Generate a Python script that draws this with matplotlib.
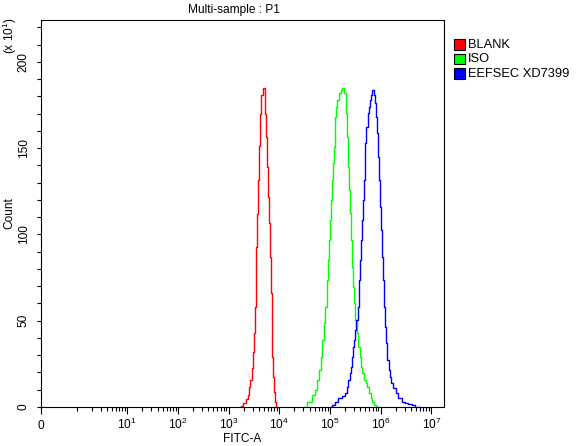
import matplotlib
matplotlib.use('Agg')
import matplotlib.pyplot as plt
from matplotlib.patches import Rectangle
from matplotlib.transforms import ScaledTranslation

plt.rcParams['font.family'] = ['Liberation Sans', 'DejaVu Sans']
plt.rcParams['mathtext.default'] = 'regular'
plt.rcParams['font.size'] = 8.6

# histogram data (FITC-A value, count in units of x10)
blank_fitc = [1750, 1816, 2114, 2280, 2456, 2650, 2774, 2944, 3084, 3228,
              3328, 3484, 3590, 3698, 3872, 4046, 4306, 4572, 4854, 5074,
              5236, 5484, 5662, 6000, 6280, 6576, 6780, 6984, 7194, 7534,
              7764, 8128, 8512, 8892]
blank_count = [0, 0.6, 2.1, 4.4, 7.0, 11.8, 15.7, 22.4, 32, 42.7,
               58, 75.5, 93, 112, 131.6, 151, 170, 181, 184.7, 185,
               181, 170, 156.7, 139, 122, 106.5, 87, 66, 44.6, 29,
               17.6, 8.9, 3.1, 0]

iso_fitc = [30760, 40460, 47000, 54840, 58880, 63680, 68720, 73960, 79980, 83560,
            88720, 92900, 97060, 103500, 108400, 113200, 116400, 121900, 125900, 131800,
            135800, 146200, 157800, 170600, 183600, 198200, 214300, 223800, 237700, 248900,
            260000, 268600, 281200, 294400, 312000, 326600, 346800, 374200, 404600, 423000,
            455000, 492000, 531000, 571600, 617000, 666800, 716200, 774600, 835600, 899600]
iso_count = [0, 3.1, 7.0, 9.9, 15.7, 21.4, 29.2, 38.8, 48.5, 58.1,
             73.6, 85.2, 96.8, 108.4, 120, 131.6, 141.3, 150.9, 160.6, 168.3,
             174, 178, 181.8, 183.5, 185, 181.8, 170.3, 156.7, 139.3, 125.8,
             112.3, 96.8, 81.3, 69.7, 60.1, 50.4, 42.7, 35, 29.2, 23.4,
             19.5, 15.7, 13.7, 11.8, 7.9, 5, 3.1, 1.2, 0.6, 0]

eefsec_fitc = [103500, 116400, 135800, 157800, 183600, 207600, 223800, 237700, 252400, 268600,
               281200, 298600, 312000, 326600, 342000, 362200, 374200, 386400, 404600, 416000,
               434600, 455000, 476400, 492000, 514000, 538400, 571600, 597000, 625200, 654600,
               685600, 716200, 750000, 799600, 847200, 887200, 929000, 970600, 1016000, 1064000,
               1114000, 1164000, 1219000, 1277000, 1334000, 1396000, 1483000, 1578000, 1698000, 1862000,
               2076000, 2410000, 2800000, 3266000, 3794000, 4406000, 5140000, 5970000]
eefsec_count = [0, 1.2, 3.1, 5, 6.4, 7.9, 11.8, 15.7, 19.5, 23.4,
                29.2, 35, 38.8, 44.6, 50.4, 58.1, 65.9, 73.6, 85.2, 96.8,
                108.4, 120, 131.6, 143.2, 152.9, 162.5, 170.3, 174, 178, 180.9,
                183.5, 184, 180.9, 176, 168.3, 158.7, 145.1, 131.6, 116.1, 102.6,
                87.1, 73.6, 58.1, 46.5, 36.9, 27.2, 21.4, 17.6, 13.7, 10.8,
                7.9, 5, 3.1, 2.5, 1.7, 1.2, 0.2, 0]

series_names = ['BLANK', 'ISO', 'EEFSEC XD7399']
series_colors = ['#ff0000', '#00ff00', '#0000ff']

x_major = [0, 1e1, 1e2, 1e3, 1e4, 1e5, 1e6, 1e7]
x_labels = ['0', '$10^{1}$', '$10^{2}$', '$10^{3}$', '$10^{4}$',
            '$10^{5}$', '$10^{6}$', '$10^{7}$']
x_minor = [m * 10 ** k for k in range(7) for m in range(1, 10) if m > 1 or k == 0]
y_major = [0, 50, 100, 150, 200]

W, H = 581, 446
fig = plt.figure(figsize=(W / 100, H / 100), dpi=100)


def fx(px):
    return px / W


def fy(py):
    return 1 - py / H


ax = fig.add_axes([fx(41), fy(407), fx(444) - fx(41), fy(19.5) - fy(407)])
ax.set_xscale('asinh', linear_width=0.4)

for xs, ys, c in zip([blank_fitc, iso_fitc, eefsec_fitc],
                     [blank_count, iso_count, eefsec_count], series_colors):
    ax.plot(xs, ys, color=c, lw=1.0, drawstyle='steps-mid')

ax.set_xlim(0, 1.78e7)
ax.set_ylim(0, 224.6)

ax.set_xticks(x_major, x_labels)
ax.set_xticks(x_minor, minor=True)
ax.set_yticks(y_major)
ax.set_yticklabels([str(v) for v in y_major], rotation=90, va='center')
ax.set_yticks(range(0, 221, 10), minor=True)
ax.tick_params(axis='x', which='major', length=5, width=0.8, pad=2)
ax.tick_params(axis='x', which='minor', length=3, width=0.8)
ax.tick_params(axis='y', which='both', length=3, width=0.8, pad=5)
for s in ax.spines.values():
    s.set_linewidth(0.8)

# the plain "0" has no superscript, push it down so it sits on the same baseline
zero_lbl = ax.get_xticklabels()[0]
zero_lbl.set_transform(zero_lbl.get_transform()
                       + ScaledTranslation(0, -3 / 100, fig.dpi_scale_trans))

fig.text(fx(234), fy(9.5), 'Multi-sample : P1', ha='center', va='center')
fig.text(fx(9.5), fy(213), 'Count', rotation=90, ha='center', va='center')
fig.text(fx(10), fy(36), '(x 10$^{1}$)', rotation=90, ha='center', va='center')
fig.text(fx(242), fy(439), 'FITC-A', ha='center', va='center')

# legend drawn by hand to the right of the plot
for i, (name, c) in enumerate(zip(series_names, series_colors)):
    top = 39.3 + i * 14.5
    fig.add_artist(Rectangle((fx(454), fy(top + 10.5)), fx(10.5), 10.5 / H,
                             transform=fig.transFigure, facecolor=c,
                             edgecolor='black', lw=0.8))
    fig.text(fx(468), fy(top + 5.5), name, va='center', ha='left', fontsize=9.3)

fig.savefig('out.png', dpi=100)
